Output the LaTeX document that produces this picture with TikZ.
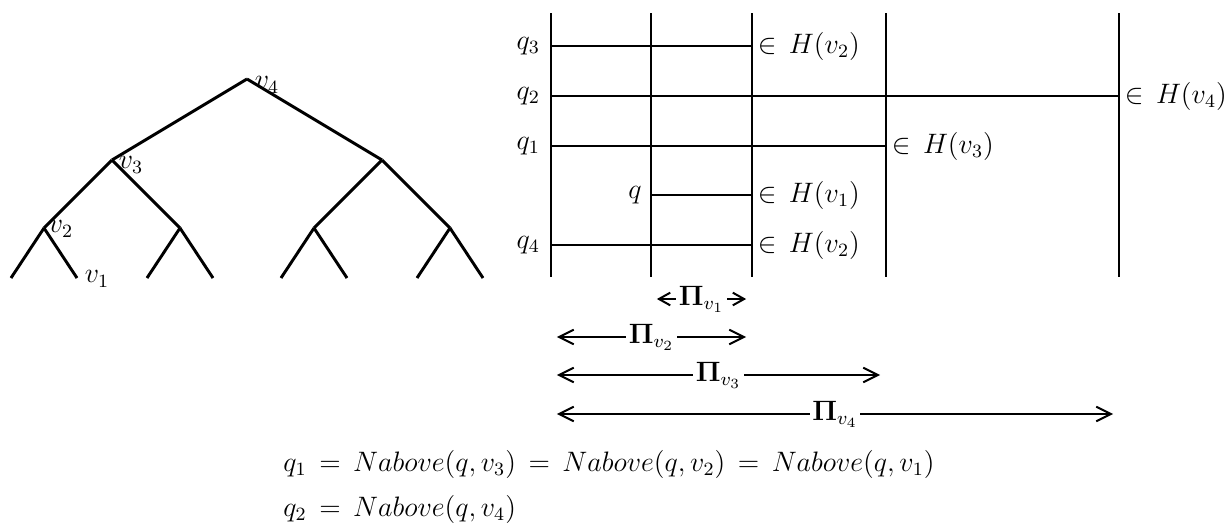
\documentclass[tikz,border=0pt]{standalone}
\usetikzlibrary{arrows.meta}
\tikzset{
  every picture/.style={line join=round},
  treeedge/.style={draw, line width=1.25pt},
  rule/.style={draw, line width=0.9pt},
  tlabel/.style={inner sep=0pt},
  qlabel/.style={anchor=east, inner sep=4.5pt},
  member/.style={anchor=west, inner sep=2pt},
  span/.style={{Straight Barb[length=2.2mm, width=2.2mm]}-{Straight Barb[length=2.2mm, width=2.2mm]},
    draw, line width=0.85pt, shorten <=2.5pt, shorten >=2.5pt},
  smallspan/.style={span, {Straight Barb[length=1.7mm, width=1.9mm]}-{Straight Barb[length=1.7mm, width=1.9mm]}},
  pilabel/.style={fill=white, inner sep=1pt},
  eqline/.style={anchor=west, inner sep=0pt},
}
\newcommand{\piv}[1]{\mathbf{\Pi}_{v_{#1}}}

\begin{document}
\thickmuskip=8mu\relax
\begin{tikzpicture}[x=0.15mm, y=-0.15mm,
    every node/.style={font=\fontsize{12}{14}\selectfont}]
\useasboundingbox (0,0) rectangle (1229,527);

% ---- tree
\foreach \name/\x/\y in {v4/247/79, v3/112/160, r/382/160,
    v2/44/228, a/180/228, b/314/228, c/450/228} {
  \coordinate (\name) at (\x, \y);
}
\foreach \name/\x in {l1/11, v1/77, l3/147, l4/213, l5/281, l6/347, l7/417, l8/483} {
  \coordinate (\name) at (\x, 278);
}
\foreach \p/\q in {v4/v3, v4/r, v3/v2, v3/a, r/b, r/c,
    v2/l1, v2/v1, a/l3, a/l4, b/l5, b/l6, c/l7, c/l8} {
  \draw[treeedge] (\p) -- (\q);
}
\node[tlabel] (lv4) at (267, 85) {$v_4$};
\node[tlabel] (lv3) at (131, 165) {$v_3$};
\node[tlabel] (lv2) at (61, 229) {$v_2$};
\node[tlabel] (lv1) at (97, 279) {$v_1$};

% ---- vertical lines and query segments
\foreach \c/\x in {1/551, 2/651, 3/752, 4/886, 5/1119} {
  \coordinate (t\c) at (\x, 13);
  \coordinate (b\c) at (\x, 277);
  \draw[rule] (t\c) -- (b\c);
}
\coordinate (rq3) at (0, 46);
\coordinate (rq2) at (0, 96);
\coordinate (rq1) at (0, 146);
\coordinate (rq) at (0, 195);
\coordinate (rq4) at (0, 245);

\draw[rule] (t1 |- rq3) -- (t3 |- rq3) node[member] (h3) {$\in H(v_2)$};
\draw[rule] (t1 |- rq2) -- (t5 |- rq2) node[member] (h2) {$\in H(v_4)$};
\draw[rule] (t1 |- rq1) -- (t4 |- rq1) node[member] (h1) {$\in H(v_3)$};
\draw[rule] (t2 |- rq) -- (t3 |- rq) node[member] (h) {$\in H(v_1)$};
\draw[rule] (t1 |- rq4) -- (t3 |- rq4) node[member] (h4) {$\in H(v_2)$};

\node[qlabel] (q3) at (t1 |- rq3) {$q_3$};
\node[qlabel] (q2) at (t1 |- rq2) {$q_2$};
\node[qlabel] (q1) at (t1 |- rq1) {$q_1$};
\node[qlabel, inner sep=3.8pt] (q) at (t2 |- rq) {$q$};
\node[qlabel] (q4) at (t1 |- rq4) {$q_4$};

% ---- ranges
\coordinate (p1) at (0, 299);
\coordinate (p2) at (0, 337);
\coordinate (p3) at (0, 375);
\coordinate (p4) at (0, 414);
\draw[smallspan] (t2 |- p1) -- node[pilabel] (pi1) {$\piv{1}$} (t3 |- p1);
\draw[span] (t1 |- p2) -- node[pilabel] (pi2) {$\piv{2}$} (t3 |- p2);
\draw[span] (t1 |- p3) -- node[pilabel] (pi3) {$\piv{3}$} (t4 |- p3);
\draw[span] (t1 |- p4) -- node[pilabel] (pi4) {$\piv{4}$} (t5 |- p4);

% ---- equations
\node[eqline] (eq1) at (283, 464) {$q_1 = Nabove(q,v_3) = Nabove(q,v_2) = Nabove(q,v_1)$};
\node[eqline] (eq2) at (283, 509) {$q_2 = Nabove(q,v_4)$};

\end{tikzpicture}
\end{document}
